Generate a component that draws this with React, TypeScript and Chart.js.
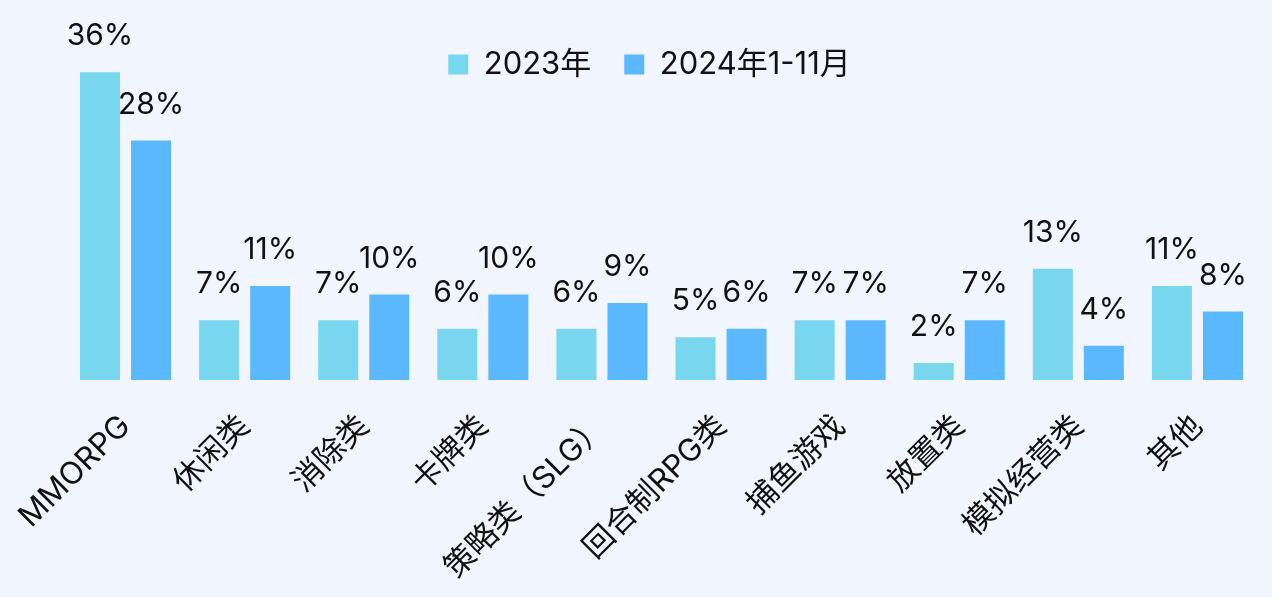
import React, { useEffect, useRef } from "react";
import { Chart, registerables } from "chart.js";
Chart.register(...registerables);

const categories = ["MMORPG", "休闲类", "消除类", "卡牌类", "策略类（SLG）", "回合制RPG类", "捕鱼游戏", "放置类", "模拟经营类", "其他"];
const series2023 = [36, 7, 7, 6, 6, 5, 7, 2, 13, 11];
const series2024 = [28, 11, 10, 10, 9, 6, 7, 7, 4, 8];
const seriesNames = ["2023年", "2024年1-11月"];

const FONT = "Inter, 'Noto Sans CJK SC', sans-serif";
const BG = "#f1f6fe";

const bgPlugin = {
  id: "bg",
  beforeDraw(chart: any) {
    const ctx = chart.ctx;
    ctx.save();
    ctx.fillStyle = BG;
    ctx.fillRect(0, 0, chart.width, chart.height);
    ctx.restore();
  },
};

// Let the legend float over the plot instead of taking vertical space.
const legendOverlay = {
  id: "legendOverlay",
  beforeLayout(chart: any) {
    const lg = chart.legend;
    if (lg && !lg._overlayPatched) {
      const orig = lg.fit.bind(lg);
      lg.fit = function () {
        orig();
        this._realHeight = this.height;
        this.height = 0;
      };
      lg._overlayPatched = true;
    }
  },
  afterLayout(chart: any) {
    const lg = chart.legend;
    if (lg) {
      lg.top -= 22;
      lg.height = lg._realHeight || 60;
      lg.bottom = lg.top + lg.height;
      lg.left -= 24;
    }
  },
};

const labelPlugin = {
  id: "barLabels",
  afterDatasetsDraw(chart: any) {
    const ctx = chart.ctx;
    ctx.save();
    ctx.font = `30px ${FONT}`;
    ctx.fillStyle = "#111";
    ctx.textAlign = "center";
    ctx.textBaseline = "alphabetic";
    chart.data.datasets.forEach((ds: any, i: number) => {
      const meta = chart.getDatasetMeta(i);
      meta.data.forEach((bar: any, j: number) => {
        ctx.fillText(ds.data[j] + "%", bar.x, bar.y - 27);
      });
    });
    ctx.restore();
  },
};

export default function App() {
  const ref = useRef<HTMLCanvasElement>(null);
  useEffect(() => {
    document.body.style.margin = "0";
    document.body.style.background = BG;
    const chart = new Chart(ref.current!, {
      type: "bar",
      data: {
        labels: categories,
        datasets: [
          { label: seriesNames[0], data: series2023, backgroundColor: "#78d6ef", barPercentage: 0.784, categoryPercentage: 0.857 },
          { label: seriesNames[1], data: series2024, backgroundColor: "#5cb8fd", barPercentage: 0.784, categoryPercentage: 0.857 },
        ],
      },
      options: {
        animation: false,
        responsive: false,
        maintainAspectRatio: false,
        layout: { padding: { left: 66, right: 15, top: 38, bottom: 0 } },
        plugins: {
          legend: {
            position: "top",
            align: "center",
            labels: {
              boxWidth: 20,
              boxHeight: 20,
              padding: 33,
              color: "#111",
              font: { size: 31, family: FONT, lineHeight: 1 },
            },
          },
          tooltip: { enabled: false },
        },
        scales: {
          x: {
            grid: { display: false, drawTicks: false },
            border: { display: false },
            ticks: {
              autoSkip: false,
              maxRotation: 45,
              minRotation: 45,
              color: "#111",
              font: { size: 31, family: FONT },
              padding: 28,
            },
            afterFit(scale: any) {
              scale.height = 217;
              scale.paddingLeft = 0;
              scale.paddingRight = 0;
            },
          },
          y: {
            display: false,
            min: 0,
            max: 40,
          },
        },
      },
      plugins: [bgPlugin, legendOverlay, labelPlugin],
    });
    return () => chart.destroy();
  }, []);
  return <canvas ref={ref} width={1272} height={597} style={{ display: "block" }} />;
}
